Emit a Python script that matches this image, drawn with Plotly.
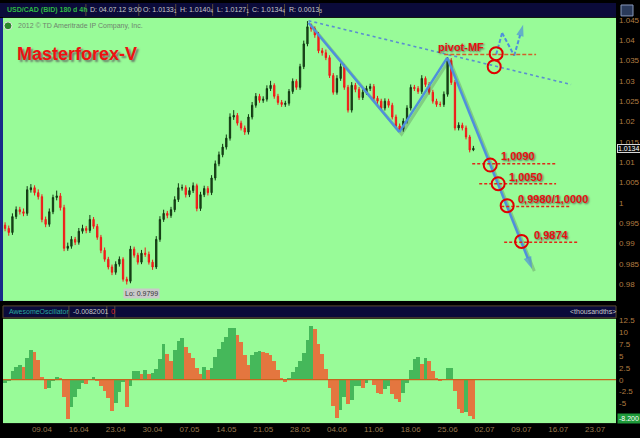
import plotly.graph_objects as go

W, H = 640, 438

# ---------------- data ----------------
# time axis: trading-day index, 0 = Mon 02.04.2012; one candle per half day
n_candles = 128
candle_day = [k * 0.5 for k in range(n_candles)]

opens = [
    0.9945, 0.9937, 0.9927, 0.9966, 0.9983, 0.9978, 0.9974, 1.0032, 1.0037, 1.0025,
    1.0015, 0.9959, 0.9947, 0.9978, 1.0013, 1.0017, 0.9988, 0.9888, 0.9893, 0.9910,
    0.9903, 0.9930, 0.9937, 0.9932, 0.9959, 0.9942, 0.9915, 0.9883, 0.9861, 0.9842,
    0.9829, 0.9849, 0.9861, 0.9812, 0.9807, 0.9886, 0.9871, 0.9854, 0.9876, 0.9873,
    0.9854, 0.9842, 0.9910, 0.9959, 0.9974, 0.9969, 0.9983, 1.0008, 1.0037, 1.0037,
    1.0020, 1.0030, 1.0042, 0.9986, 1.0020, 1.0035, 1.0025, 1.0061, 1.0096, 1.0118,
    1.0137, 1.0159, 1.0211, 1.0215, 1.0196, 1.0184, 1.0174, 1.0211, 1.0240, 1.0262,
    1.0252, 1.0255, 1.0281, 1.0289, 1.0262, 1.0247, 1.0242, 1.0245, 1.0274, 1.0299,
    1.0284, 1.0335, 1.0391, 1.0433, 1.0428, 1.0413, 1.0374, 1.0369, 1.0357, 1.0313,
    1.0272, 1.0306, 1.0335, 1.0284, 1.0228, 1.0289, 1.0279, 1.0259, 1.0272, 1.0281,
    1.0286, 1.0257, 1.0250, 1.0233, 1.0250, 1.0240, 1.0211, 1.0189, 1.0181, 1.0201,
    1.0233, 1.0284, 1.0281, 1.0274, 1.0306, 1.0291, 1.0272, 1.0250, 1.0242, 1.0242,
    1.0267, 1.0350, 1.0296, 1.0184, 1.0191, 1.0184, 1.0162, 1.0130]

highs = [
    0.9952, 0.9944, 0.9974, 0.9991, 0.9990, 0.9986, 1.0041, 1.0046, 1.0043, 1.0033,
    1.0021, 0.9966, 0.9986, 1.0020, 1.0030, 1.0024, 0.9995, 0.9902, 0.9918, 0.9916,
    0.9938, 0.9946, 0.9943, 0.9970, 0.9965, 0.9948, 0.9921, 0.9890, 0.9867, 0.9848,
    0.9856, 0.9868, 0.9866, 0.9818, 0.9894, 0.9892, 0.9877, 0.9884, 0.9890, 0.9880,
    0.9860, 0.9918, 0.9967, 0.9983, 0.9980, 0.9990, 1.0016, 1.0048, 1.0045, 1.0043,
    1.0038, 1.0050, 1.0047, 1.0027, 1.0042, 1.0041, 1.0068, 1.0104, 1.0126, 1.0145,
    1.0168, 1.0220, 1.0228, 1.0221, 1.0202, 1.0190, 1.0218, 1.0248, 1.0270, 1.0268,
    1.0262, 1.0289, 1.0300, 1.0294, 1.0268, 1.0253, 1.0251, 1.0280, 1.0306, 1.0304,
    1.0342, 1.0399, 1.0447, 1.0441, 1.0434, 1.0420, 1.0381, 1.0377, 1.0363, 1.0319,
    1.0314, 1.0343, 1.0341, 1.0290, 1.0297, 1.0295, 1.0285, 1.0279, 1.0288, 1.0293,
    1.0292, 1.0263, 1.0256, 1.0257, 1.0256, 1.0246, 1.0217, 1.0195, 1.0208, 1.0240,
    1.0291, 1.0290, 1.0287, 1.0314, 1.0311, 1.0297, 1.0278, 1.0256, 1.0249, 1.0274,
    1.0358, 1.0356, 1.0302, 1.0198, 1.0197, 1.0190, 1.0167, 1.0140]

lows = [
    0.9930, 0.9919, 0.9921, 0.9960, 0.9971, 0.9967, 0.9968, 1.0025, 1.0018, 1.0008,
    0.9952, 0.9940, 0.9941, 0.9972, 1.0006, 0.9981, 0.9881, 0.9882, 0.9887, 0.9896,
    0.9897, 0.9924, 0.9925, 0.9926, 0.9936, 0.9909, 0.9876, 0.9855, 0.9836, 0.9822,
    0.9823, 0.9843, 0.9806, 0.9799, 0.9802, 0.9865, 0.9848, 0.9849, 0.9867, 0.9848,
    0.9835, 0.9837, 0.9904, 0.9953, 0.9962, 0.9963, 0.9977, 1.0002, 1.0030, 1.0013,
    1.0014, 1.0024, 0.9979, 0.9980, 1.0014, 1.0018, 1.0019, 1.0055, 1.0090, 1.0112,
    1.0131, 1.0153, 1.0204, 1.0190, 1.0178, 1.0167, 1.0168, 1.0205, 1.0234, 1.0246,
    1.0246, 1.0249, 1.0275, 1.0256, 1.0241, 1.0236, 1.0236, 1.0239, 1.0268, 1.0278,
    1.0278, 1.0329, 1.0385, 1.0421, 1.0406, 1.0368, 1.0362, 1.0351, 1.0307, 1.0266,
    1.0266, 1.0300, 1.0278, 1.0222, 1.0222, 1.0272, 1.0253, 1.0253, 1.0266, 1.0275,
    1.0251, 1.0244, 1.0227, 1.0227, 1.0234, 1.0205, 1.0183, 1.0175, 1.0175, 1.0195,
    1.0227, 1.0275, 1.0268, 1.0268, 1.0285, 1.0266, 1.0244, 1.0236, 1.0236, 1.0236,
    1.0261, 1.0290, 1.0178, 1.0178, 1.0178, 1.0156, 1.0124, 1.0127]

closes = [
    0.9937, 0.9927, 0.9966, 0.9983, 0.9978, 0.9974, 1.0032, 1.0037, 1.0025, 1.0015,
    0.9959, 0.9947, 0.9978, 1.0013, 1.0017, 0.9988, 0.9888, 0.9893, 0.9910, 0.9903,
    0.9930, 0.9937, 0.9932, 0.9959, 0.9942, 0.9915, 0.9883, 0.9861, 0.9842, 0.9829,
    0.9849, 0.9861, 0.9812, 0.9807, 0.9886, 0.9871, 0.9854, 0.9876, 0.9873, 0.9854,
    0.9842, 0.9910, 0.9959, 0.9974, 0.9969, 0.9983, 1.0008, 1.0037, 1.0037, 1.0020,
    1.0030, 1.0042, 0.9986, 1.0020, 1.0035, 1.0025, 1.0061, 1.0096, 1.0118, 1.0137,
    1.0159, 1.0211, 1.0215, 1.0196, 1.0184, 1.0174, 1.0211, 1.0240, 1.0262, 1.0252,
    1.0255, 1.0281, 1.0289, 1.0262, 1.0247, 1.0242, 1.0245, 1.0274, 1.0299, 1.0284,
    1.0335, 1.0391, 1.0433, 1.0428, 1.0413, 1.0374, 1.0369, 1.0357, 1.0313, 1.0272,
    1.0306, 1.0335, 1.0284, 1.0228, 1.0289, 1.0279, 1.0259, 1.0272, 1.0281, 1.0286,
    1.0257, 1.0250, 1.0233, 1.0250, 1.0240, 1.0211, 1.0189, 1.0181, 1.0201, 1.0233,
    1.0284, 1.0281, 1.0274, 1.0306, 1.0291, 1.0272, 1.0250, 1.0242, 1.0242, 1.0267,
    1.0350, 1.0296, 1.0184, 1.0191, 1.0184, 1.0162, 1.0130, 1.0134]

ao_values = [
    -0.7, -0.2, 1.8, 2.8, 3.1, 2.7, 4.6, 6.2, 5.8, 4.2,
    0.6, -2.0, -1.8, -0.1, 0.7, 0.2, -3.5, -8.2, -5.6, -3.5,
    -2.0, -0.7, -0.8, 0.0, 0.6, -0.2, -1.3, -2.3, -3.9, -6.6,
    -4.9, -2.6, -0.5, -5.7, -1.2, 1.8, 1.9, 1.3, 2.0, 1.2,
    1.5, 2.2, 4.3, 7.5, 5.5, 3.9, 6.2, 8.2, 8.8, 7.0,
    5.7, 4.5, 2.5, 1.2, 2.6, 2.0, 2.5, 4.7, 6.5, 7.9,
    9.1, 10.8, 10.9, 9.5, 7.9, 5.2, 3.1, 5.2, 5.8, 6.1,
    5.8, 5.6, 5.3, 4.0, 2.0, 0.5, -0.4, 0.4, 1.7, 2.8,
    4.0, 5.6, 8.3, 11.2, 10.7, 7.6, 5.4, 2.2, -1.8, -5.4,
    -8.0, -6.3, -3.6, -5.0, -4.3, -1.2, -1.2, -1.8, -0.7, 0.1,
    -1.1, -2.7, -2.9, -1.9, -1.2, -2.9, -4.1, -4.7, -2.7, -0.6,
    2.0, 4.4, 4.7, 3.4, 4.5, 3.9, 1.9, 0.3, -0.2, 0.1,
    2.5, 2.5, -2.4, -6.1, -7.0, -6.7, -7.5, -8.2]

tick_days = [5, 10, 15, 20, 25, 30, 35, 40, 45, 50, 55, 60, 65, 70, 75, 80]
tick_labels = ["09.04", "16.04", "23.04", "30.04", "07.05", "14.05", "21.05", "28.05",
               "04.06", "11.06", "18.06", "25.06", "02.07", "09.07", "16.07", "23.07"]

price_ticks = [0.98, 0.985, 0.99, 0.995, 1.0, 1.005, 1.01, 1.015, 1.02, 1.025, 1.03, 1.035, 1.04, 1.045]
price_tick_text = ["0.98", "0.985", "0.99", "0.995", "1", "1.005", "1.01", "1.015",
                   "1.02", "1.025", "1.03", "1.035", "1.04", "1.045"]
ao_ticks = [-5, -2.5, 0, 2.5, 5, 7.5, 10, 12.5]
ao_tick_text = ["-5", "-2.5", "0", "2.5", "5", "7.5", "10", "12.5"]

# hand-drawn analysis (day index, price)
wave_days = [41.14, 53.46, 59.96, 71.46]
wave_prices = [1.0443, 1.0174, 1.0357, 0.9837]
channel_days = [41.14, 76.74]
channel_prices = [1.0448, 1.0291]
alt_days = [66.59, 67.40, 69.03, 70.24]
alt_prices = [1.0365, 1.0418, 1.0362, 1.0438]
pivot_days = [59.55, 72.00]
pivot_price = 1.0365
pivot_label_day, pivot_label_price = 61.85, 1.0384

level_labels = ["1,0090", "1,0050", "0,9980/1,0000", "0,9874"]
level_prices = [1.0096, 1.0047, 0.9991, 0.9903]
level_start_days = [63.34, 64.29, 67.27, 67.67]
level_end_days = [74.71, 74.71, 76.74, 77.83]
level_label_days = [67.0, 68.1, 69.3, 71.5]
level_label_prices = [1.0115, 1.0064, 1.0010, 0.9920]

circle_days = [66.59, 66.32, 65.78, 66.86, 68.08, 70.03]
circle_prices = [1.0367, 1.0335, 1.0093, 1.0047, 0.9993, 0.9905]

# ---------------- styling helpers ----------------
def px(x):
    return x / W


def py(y):
    return 1 - y / H


X0, X1 = 3, 617
FONT = "Liberation Sans, Arial, sans-serif"
AXIS_COL = "#b07c40"
BLUE = "#4f8fdc"
RED = "#e81010"

fig = go.Figure()

# candles
fig.add_trace(go.Candlestick(
    x=candle_day, open=opens, high=highs, low=lows, close=closes,
    xaxis="x", yaxis="y",
    increasing=dict(line=dict(color="#123812", width=1), fillcolor="#1d4a1d"),
    decreasing=dict(line=dict(color="#f01818", width=1), fillcolor="#ff2020"),
    whiskerwidth=0, hoverinfo="skip"))

# Awesome oscillator
ao_colors = ["#45b85a" if (i == 0 or v >= ao_values[i - 1]) else "#e4763f"
             for i, v in enumerate(ao_values)]
fig.add_trace(go.Bar(x=candle_day, y=ao_values, xaxis="x2", yaxis="y2",
                     marker=dict(color=ao_colors, line=dict(width=0)), width=0.5,
                     hoverinfo="skip"))

# channel dotted line
fig.add_trace(go.Scatter(x=channel_days, y=channel_prices, mode="lines",
                         line=dict(color="#5a8ed0", width=1.6, dash="dot"),
                         hoverinfo="skip"))

# wave shadow + wave with arrow
fig.add_trace(go.Scatter(x=[d + 0.3 for d in wave_days], y=[p - 0.0005 for p in wave_prices],
                         mode="lines", line=dict(color="rgba(60,70,60,0.25)", width=3),
                         hoverinfo="skip"))
fig.add_trace(go.Scatter(x=wave_days, y=wave_prices, mode="lines+markers",
                         line=dict(color=BLUE, width=2.5),
                         marker=dict(symbol="arrow", size=[0, 0, 0, 13], color=BLUE,
                                     angleref="previous", line=dict(width=0)),
                         hoverinfo="skip"))

# alternative (dashed) scenario with arrow
fig.add_trace(go.Scatter(x=alt_days, y=alt_prices, mode="lines+markers",
                         line=dict(color=BLUE, width=2, dash="4px,2px"),
                         marker=dict(symbol="arrow", size=[0, 0, 0, 12], color=BLUE,
                                     angleref="previous", line=dict(width=0)),
                         hoverinfo="skip"))

# pivot line
fig.add_trace(go.Scatter(x=pivot_days, y=[pivot_price, pivot_price], mode="lines",
                         line=dict(color="#d2602a", width=1.5, dash="4px,2px"),
                         hoverinfo="skip"))

# target levels
for lab, lp, ls, le in zip(level_labels, level_prices, level_start_days, level_end_days):
    fig.add_trace(go.Scatter(x=[ls, le], y=[lp, lp], mode="lines",
                             line=dict(color="#e02818", width=1.5, dash="3px,2px"),
                             hoverinfo="skip"))

# circles
fig.add_trace(go.Scatter(x=circle_days, y=circle_prices, mode="markers",
                         marker=dict(symbol="circle-open", size=13,
                                     line=dict(color="#e00000", width=2), color="#e00000"),
                         hoverinfo="skip"))

shapes = []
annotations = []

# top header bar
shapes.append(dict(type="rect", xref="paper", yref="paper", x0=0, x1=px(X1),
                   y0=py(14), y1=1, fillcolor="#0b0b3a", line=dict(width=0), layer="above"))
for sx in [86, 139, 176, 213, 248, 285, 320]:
    shapes.append(dict(type="line", xref="paper", yref="paper", x0=px(sx), x1=px(sx),
                       y0=py(13), y1=py(1), line=dict(color="#5a4a38", width=1), layer="above"))
header = [("<b>USD/CAD (BID) 180 d 4h</b>", 5, "#2fb845"),
          ("D: 04.07.12 9:00", 88, "#c8c8c8"),
          ("O: 1.0133<sub>1</sub>", 141, "#c8c8c8"),
          ("H: 1.0140<sub>4</sub>", 178, "#c8c8c8"),
          ("L: 1.0127<sub>1</sub>", 215, "#c8c8c8"),
          ("C: 1.0134<sub>4</sub>", 250, "#c8c8c8"),
          ("R: 0.0013<sub>3</sub>", 287, "#c8c8c8")]
for txt, hx, col in header:
    annotations.append(dict(text=txt, xref="paper", yref="paper", x=px(hx), y=py(7),
                            xanchor="left", yanchor="middle", showarrow=False,
                            font=dict(size=7, color=col, family=FONT)))

# small icon top right
shapes.append(dict(type="rect", xref="paper", yref="paper", x0=px(622), x1=px(634),
                   y0=py(13), y1=py(2), fillcolor="#2a3a5a", line=dict(color="#8899bb", width=1)))

# left blue border of price panel
shapes.append(dict(type="line", xref="paper", yref="paper", x0=px(1.5), x1=px(1.5),
                   y0=py(300), y1=py(15), line=dict(color="#1a2a8a", width=3)))

# oscillator header
shapes.append(dict(type="rect", xref="paper", yref="paper", x0=px(3), x1=px(X1),
                   y0=py(317), y1=py(305), fillcolor="#0b0b3a",
                   line=dict(color="#5a4a30", width=1)))
for sx in [69, 107, 115]:
    shapes.append(dict(type="line", xref="paper", yref="paper", x0=px(sx), x1=px(sx),
                       y0=py(317), y1=py(305), line=dict(color="#5a4a38", width=1)))
osc_head = [("AwesomeOscillator", 7, "#2aa8a0"),
            ("-0.0082001", 71, "#c8c8c8"),
            ("0", 109, "#e02020"),
            ("<thousandths>", 569, "#c8c8c8")]
for txt, hx, col in osc_head:
    annotations.append(dict(text=txt, xref="paper", yref="paper", x=px(hx), y=py(311),
                            xanchor="left", yanchor="middle", showarrow=False,
                            font=dict(size=7, color=col, family=FONT)))

# AO zero line
shapes.append(dict(type="line", xref="paper", yref="y2", x0=px(X0), x1=px(X1), y0=0, y1=0,
                   line=dict(color="#c8641e", width=1.2)))

# copyright and title
shapes.append(dict(type="circle", xref="paper", yref="paper", x0=px(4), x1=px(12),
                   y0=py(27), y1=py(19), fillcolor="#2a8a2a", line=dict(color="#e8e8e8", width=1)))
annotations.append(dict(text="2012 © TD Ameritrade IP Company, Inc.", xref="paper", yref="paper",
                        x=px(16), y=py(23), xanchor="left", yanchor="middle", showarrow=False,
                        font=dict(size=7, color="#6f846f", family=FONT)))
annotations.append(dict(text="<b>Masterforex-V</b>", xref="paper", yref="paper",
                        x=px(15), y=py(51), xanchor="left", yanchor="middle", showarrow=False,
                        font=dict(size=18, color="#ee1111", family=FONT,
                                  shadow="2px 2px 2px #6a7a6a")))

# Lo label
annotations.append(dict(text="Lo: 0.9799", xref="paper", yref="paper", x=px(142), y=py(292),
                        xanchor="center", yanchor="middle", showarrow=False,
                        bgcolor="#c9c9c9", borderpad=1,
                        font=dict(size=7, color="#333333", family=FONT)))

# pivot label
annotations.append(dict(text="<b>pivot-MF</b>", xref="x", yref="y", x=pivot_label_day,
                        y=pivot_label_price, xanchor="center", yanchor="middle", showarrow=False,
                        font=dict(size=11, color=RED, family=FONT, shadow="1px 1px 2px #556655")))
for lab, ld, lp in zip(level_labels, level_label_days, level_label_prices):
    annotations.append(dict(text="<b>" + lab + "</b>", xref="x", yref="y", x=ld, y=lp,
                            xanchor="left", yanchor="middle", showarrow=False,
                            font=dict(size=11, color=RED, family=FONT,
                                      shadow="1px 1px 2px #556655")))

# current price tag & oscillator value tag
annotations.append(dict(text="1.0134", xref="paper", yref="y", x=px(618), y=closes[-1],
                        xanchor="left", yanchor="middle", showarrow=False,
                        bgcolor="#0a0a0a", bordercolor="#d8d8d8", borderwidth=1, borderpad=0,
                        font=dict(size=7, color="#ffffff", family=FONT)))
annotations.append(dict(text="-8.200", xref="paper", yref="y2", x=px(618), y=ao_values[-1],
                        xanchor="left", yanchor="middle", showarrow=False,
                        bgcolor="#1e9a3a", borderpad=1,
                        font=dict(size=7, color="#ffffff", family=FONT)))

x_range = [-0.28, 82.84]
fig.update_layout(
    width=W, height=H, margin=dict(l=0, r=0, t=0, b=0),
    paper_bgcolor="#000000", plot_bgcolor="#98fb98", showlegend=False,
    font=dict(family=FONT), bargap=0, boxgap=0.5,
    xaxis=dict(domain=[px(X0), px(X1)], range=x_range, anchor="y", showgrid=False,
               zeroline=False, showticklabels=False, rangeslider=dict(visible=False),
               fixedrange=True),
    yaxis=dict(domain=[py(300), py(15)], range=[0.97585, 1.04549], anchor="x", side="right",
               showgrid=False, zeroline=False, tickvals=price_ticks, ticktext=price_tick_text,
               tickfont=dict(size=8, color=AXIS_COL, family=FONT), ticks="",
               ticklabelstandoff=2),
    xaxis2=dict(domain=[px(X0), px(X1)], range=x_range, anchor="y2", showgrid=False,
                zeroline=False, tickvals=tick_days, ticktext=tick_labels, ticks="",
                tickfont=dict(size=8, color="#9a7a50", family=FONT)),
    yaxis2=dict(domain=[py(423), py(318)], range=[-9.1, 12.77], anchor="x2", side="right",
                showgrid=False, zeroline=False, tickvals=ao_ticks, ticktext=ao_tick_text,
                tickfont=dict(size=8, color=AXIS_COL, family=FONT), ticks="",
                ticklabelstandoff=2),
    shapes=shapes, annotations=annotations,
)

fig.write_html("out.html", config={"displayModeBar": False},
               post_script="document.body.style.margin='0';document.body.style.background='#000';")
